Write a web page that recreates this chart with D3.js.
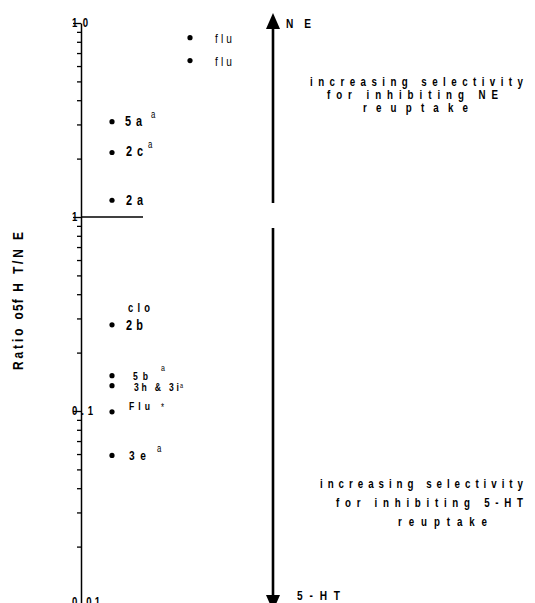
<!DOCTYPE html>
<html><head><meta charset="utf-8">
<script src="https://cdn.jsdelivr.net/npm/d3@7"></script>
<style>
body{margin:0;background:#fff}
text{font-family:"Liberation Sans",Arial,sans-serif;fill:#000}
</style>
</head><body>
<svg id="c" width="535" height="603"></svg>
<script>
// ---- data ----
const compounds = ["flu", "flu", "5a", "2c", "2a", "clo", "2b", "5b", "3h & 3i", "Flu", "3e"];
const ratios    = [8.4, 6.4, 3.1, 2.15, 1.22, 0.28, 0.278, 0.152, 0.135, 0.099, 0.059];
const columns   = [1, 1, 0, 0, 0, 0, 0, 0, 0, 0, 0];
const footnotes = ["", "", "a", "a", "", "", "", "a", "a", "*", "a"];
const showDot   = [true, true, true, true, true, false, true, true, true, true, true];
const majorTicks = [10, 1, 0.1, 0.01];
const majorTickLabels = ["10", "1", "0.1", "0.01"];
const yTitle = ["Ratio", "o5f", "H T/N E"];
const upperNote = ["increasing selectivity", "for inhibiting NE", "reuptake"];
const lowerNote = ["increasing selectivity", "for inhibiting 5-HT", "reuptake"];

// ---- layout (styles / label offsets) ----
const labelStyle = [
  {dx:25, dy:5,  w:17, fs:13, fw:"normal"},
  {dx:25, dy:5,  w:17, fs:13, fw:"normal"},
  {dx:13, dy:4,  w:17, fs:14, fw:"bold", sx:39, sdy:-4, sw:5, sfs:10},
  {dx:14, dy:3,  w:17, fs:14, fw:"bold", sx:36, sdy:-5, sw:5, sfs:10},
  {dx:14, dy:5,  w:17, fs:14, fw:"bold"},
  {dx:16, dy:-12,w:22, fs:12, fw:"bold"},
  {dx:14, dy:5,  w:17, fs:14, fw:"bold"},
  {dx:21, dy:4,  w:15, fs:11, fw:"bold", sx:49, sdy:-5, sw:4, sfs:9},
  {dx:22, dy:5,  w:45, fs:11, fw:"bold", sx:68, sdy:2, sw:4, sfs:7},
  {dx:17, dy:-2, w:21, fs:11, fw:"bold", sx:49, sdy:-1, sw:4, sfs:10},
  {dx:17, dy:5,  w:17, fs:13, fw:"bold", sx:45, sdy:-3, sw:5, sfs:10}
];

const svg = d3.select("#c");
const y = d3.scaleLog().domain([0.01, 10]).range([605, 23]);
const x = d3.scaleLinear().domain([0, 1]).range([112, 190]);

// condensed text helper
function ctext(parent, px, py, str, o) {
  const k = o.k || 0.78;
  const t = parent.append("text")
    .attr("transform", `translate(${px},${py}) scale(${k},1)`)
    .style("font-size", o.fs + "px").style("font-weight", o.fw || "bold")
    .attr("fill", o.fill || "#000").text(str);
  if (o.w) t.attr("textLength", o.w / k).attr("lengthAdjust", "spacing");
  if (o.anchor) t.attr("text-anchor", o.anchor);
  return t;
}

// axis
const allTicks = [];
[0.01, 0.1, 1].forEach(d => { for (let k = 1; k <= 9; k++) allTicks.push(+(d * k).toPrecision(3)); });
allTicks.push(10);
const axis = d3.axisLeft(y).tickValues(allTicks).tickSizeOuter(0).tickSizeInner(4).tickFormat(() => "");
const ga = svg.append("g").attr("transform", "translate(81,0)").call(axis);
ga.select(".domain").attr("stroke", "#000").attr("stroke-width", 1.5);
ga.selectAll(".tick line").attr("stroke", "#000").attr("stroke-width", 1.3)
  .attr("x2", d => majorTicks.includes(d) ? -8 : -4);
const tickW = [16, 4, 21, 28];
majorTicks.forEach((v, i) => ctext(svg, 72, Math.min(y(v) + 4, 606), majorTickLabels[i],
  {fs: 12, fw: "bold", w: tickW[i], k: 0.8}));

// divider at ratio 1
svg.append("line").attr("x1", 81).attr("x2", 143).attr("y1", y(1)).attr("y2", y(1))
  .attr("stroke", "#000").attr("stroke-width", 1.3);

// points
const data = compounds.map((c, i) => ({c, v: ratios[i], col: columns[i], fn: footnotes[i], dot: showDot[i], s: labelStyle[i]}));
svg.append("g").selectAll("circle").data(data.filter(d => d.dot)).join("circle")
  .attr("cx", d => x(d.col)).attr("cy", d => y(d.v)).attr("r", 2.6).attr("fill", "#000");

const lg = svg.append("g");
data.forEach(d => {
  const px = x(d.col), py = y(d.v), s = d.s;
  ctext(lg, px + s.dx, py + s.dy, d.c, {fs: s.fs, fw: s.fw, w: s.w, fill: s.fw === "normal" ? "#222" : "#000"});
  if (d.fn) ctext(lg, px + s.sx, py + s.sdy, d.fn, {fs: s.sfs, fw: "normal"});
});

// y title
const tt = svg.append("text").attr("transform", "translate(23,301) rotate(-90) scale(0.85,1)")
  .attr("text-anchor", "middle").style("font-size", "14px").style("font-weight", "bold")
  .attr("textLength", 138 / 0.85).attr("lengthAdjust", "spacing");
tt.append("tspan").text(yTitle[0] + " ");
tt.append("tspan").style("letter-spacing", "-2px").text(yTitle[1]);
tt.append("tspan").text(" " + yTitle[2]);

// arrows
const ax = 273;
svg.append("line").attr("x1", ax).attr("x2", ax).attr("y1", 203).attr("y2", 27)
  .attr("stroke", "#000").attr("stroke-width", 2.6);
svg.append("path").attr("d", `M${ax},13 L${ax-7},29 L${ax+7},29 Z`).attr("fill", "#000");
svg.append("line").attr("x1", ax).attr("x2", ax).attr("y1", 228).attr("y2", 598)
  .attr("stroke", "#000").attr("stroke-width", 2.6);
svg.append("path").attr("d", `M${ax},611 L${ax-7},595 L${ax+7},595 Z`).attr("fill", "#000");

ctext(svg, 286, 28, "NE", {fs: 13, w: 25});
ctext(svg, 297, 600, "5-HT", {fs: 13, w: 43});

const upPos = [{x:310, y:86, w:213}, {x:327, y:99, w:171}, {x:363, y:112, w:105}];
const loPos = [{x:320, y:488, w:203}, {x:336, y:507, w:187}, {x:398, y:526, w:89}];
upperNote.forEach((t, i) => ctext(svg, upPos[i].x, upPos[i].y, t, {fs: 12.5, w: upPos[i].w}));
lowerNote.forEach((t, i) => ctext(svg, loPos[i].x, loPos[i].y, t, {fs: 12.5, w: loPos[i].w}));
</script>
</body></html>
